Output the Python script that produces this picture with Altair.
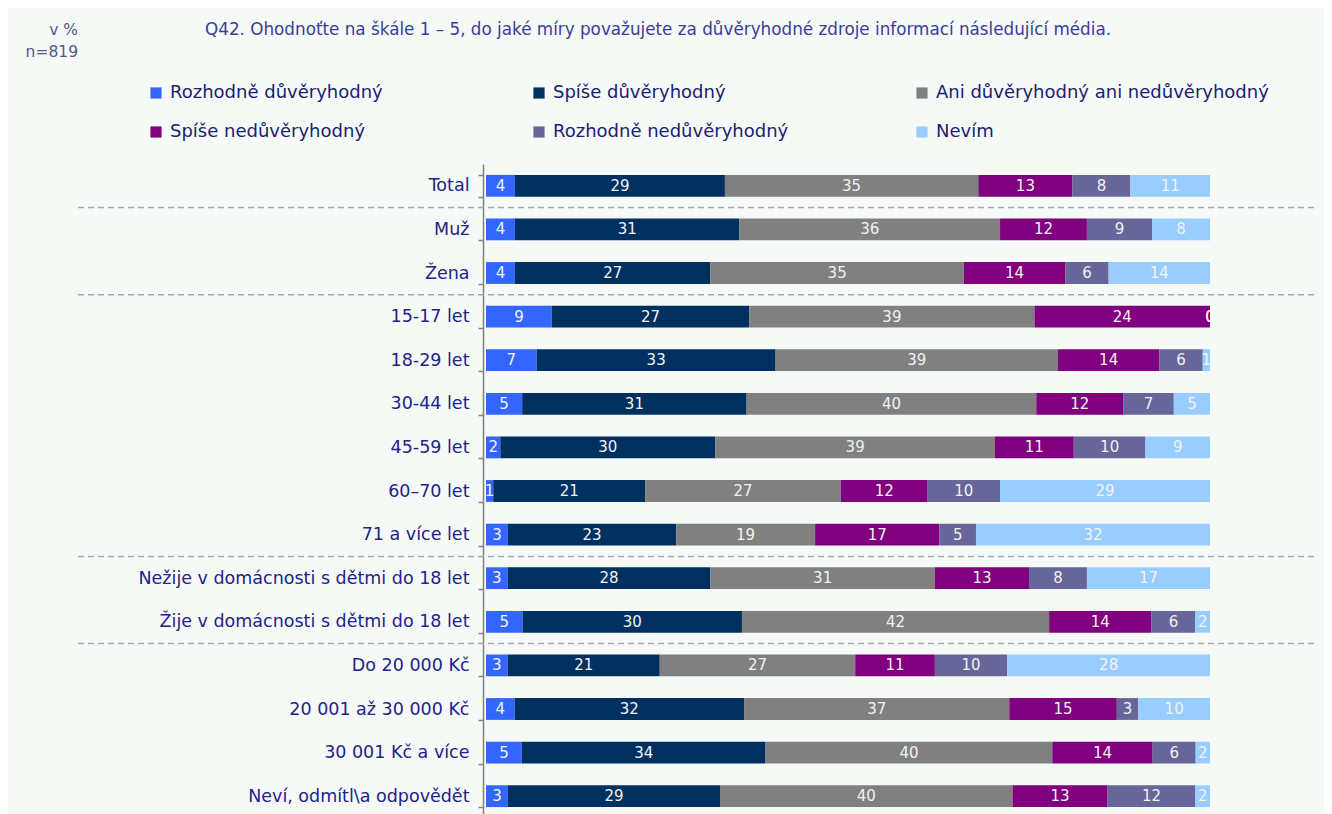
import altair as alt
import pandas as pd

categories = [
    "Total", "Muž", "Žena", "15-17 let", "18-29 let", "30-44 let", "45-59 let",
    "60–70 let", "71 a více let", "Nežije v domácnosti s dětmi do 18 let",
    "Žije v domácnosti s dětmi do 18 let", "Do 20 000 Kč", "20 001 až 30 000 Kč",
    "30 001 Kč a více", "Neví, odmítl\\a odpovědět",
]
series_names = [
    "Rozhodně důvěryhodný", "Spíše důvěryhodný", "Ani důvěryhodný ani nedůvěryhodný",
    "Spíše nedůvěryhodný", "Rozhodně nedůvěryhodný", "Nevím",
]
series_colors = ["#3366ff", "#003060", "#808080", "#800080", "#666699", "#99ccff"]

rozhodne_duv = [4, 4, 4, 9, 7, 5, 2, 1, 3, 3, 5, 3, 4, 5, 3]
spise_duv = [29, 31, 27, 27, 33, 31, 30, 21, 23, 28, 30, 21, 32, 34, 29]
ani = [35, 36, 35, 39, 39, 40, 39, 27, 19, 31, 42, 27, 37, 40, 40]
spise_ned = [13, 12, 14, 24, 14, 12, 11, 12, 17, 13, 14, 11, 15, 14, 13]
rozhodne_ned = [8, 9, 6, 0, 6, 7, 10, 10, 5, 8, 6, 10, 3, 6, 12]
nevim = [11, 8, 14, 0, 1, 5, 9, 29, 32, 17, 2, 28, 10, 2, 2]

separator_before = ["Muž", "15-17 let", "Nežije v domácnosti s dětmi do 18 let", "Do 20 000 Kč"]

title_text = "Q42. Ohodnoťte na škále 1 – 5, do jaké míry považujete za důvěryhodné zdroje informací následující média."

all_series = [rozhodne_duv, spise_duv, ani, spise_ned, rozhodne_ned, nevim]
rows = []
for si, (name, vals) in enumerate(zip(series_names, all_series)):
    for cat, v in zip(categories, vals):
        rows.append({"cat": cat, "series": name, "order": si, "value": v})
df = pd.DataFrame(rows)

FONT = "DejaVu Sans"
STEP_RANGE = 654

yscale = alt.Scale(range=[0, STEP_RANGE], paddingInner=0.5, paddingOuter=0.25)

base = alt.Chart(df).transform_stack(
    stack="value", groupby=["cat"], as_=["v0", "v1"], offset="normalize",
    sort=[alt.SortField("order", order="ascending")],
).transform_calculate(mid="(datum.v0 + datum.v1) / 2")

ycat = alt.Y(
    "cat:N", sort=categories, scale=yscale, title=None,
    axis=alt.Axis(
        labelFont=FONT, labelFontSize=17.5, labelColor="#22228a", labelPadding=9,
        domainColor="#808080", domainWidth=1.5, tickColor="#808080", tickWidth=1.5,
        tickSize=5, tickBand="extent", offset=3, labelLimit=500,
    ),
)

bars = base.mark_bar().encode(
    y=ycat,
    x=alt.X("v0:Q", axis=None, scale=alt.Scale(domain=[0, 1], nice=False)),
    x2="v1:Q",
    color=alt.Color(
        "series:N",
        scale=alt.Scale(domain=series_names, range=series_colors),
        legend=alt.Legend(
            orient="none", legendX=-339, legendY=-80, direction="horizontal",
            columns=3, gridAlign="all", symbolType="square", symbolSize=125,
            symbolStrokeWidth=0, labelFont=FONT, labelFontSize=18,
            labelColor="#202070", title=None, columnPadding=27, rowPadding=21,
            labelLimit=500, labelOffset=5,
        ),
    ),
)

labels = base.mark_text(
    color="#f2f2f2", fontSize=15, font=FONT, clip=True, baseline="middle"
).encode(
    y=alt.Y("cat:N", sort=categories, scale=yscale),
    x=alt.X("mid:Q", scale=alt.Scale(domain=[0, 1], nice=False)),
    text=alt.Text("value:Q", format="d"),
)

sep = alt.Chart(pd.DataFrame({"cat": separator_before})).mark_rule(
    color="#a6a6a6", strokeWidth=1.5, strokeDash=[6, 4], yOffset=-STEP_RANGE / 15 / 2
).encode(
    y=alt.Y("cat:N", sort=categories, scale=yscale),
    x=alt.value(-408),
    x2=alt.value(832),
)

title = alt.Chart(pd.DataFrame({"t": [title_text]})).mark_text(
    align="left", baseline="middle", font=FONT, fontSize=16.8, color="#3c3c9c"
).encode(text="t:N", x=alt.value(-281), y=alt.value(-134))

unit2 = alt.Chart(pd.DataFrame({"t": ["n=819"]})).mark_text(
    align="right", baseline="middle", font=FONT, fontSize=15.5, color="#55558a"
).encode(text="t:N", x=alt.value(-408), y=alt.value(-112))

unit1 = alt.Chart(pd.DataFrame({"t": ["v %"]})).mark_text(
    align="right", baseline="middle", font=FONT, fontSize=15.5, color="#55558a"
).encode(text="t:N", x=alt.value(-408), y=alt.value(-134))

chart = alt.layer(bars, labels, sep, title, unit1, unit2).properties(
    width=724, height=650,
    autosize=alt.AutoSizeParams(type="none"),
    padding={"left": 478, "top": 156, "right": 114, "bottom": 0},
    background="#f5faf7",
).configure_view(stroke=None)

chart.save("out.html", embed_options={"renderer": "svg", "actions": False})
